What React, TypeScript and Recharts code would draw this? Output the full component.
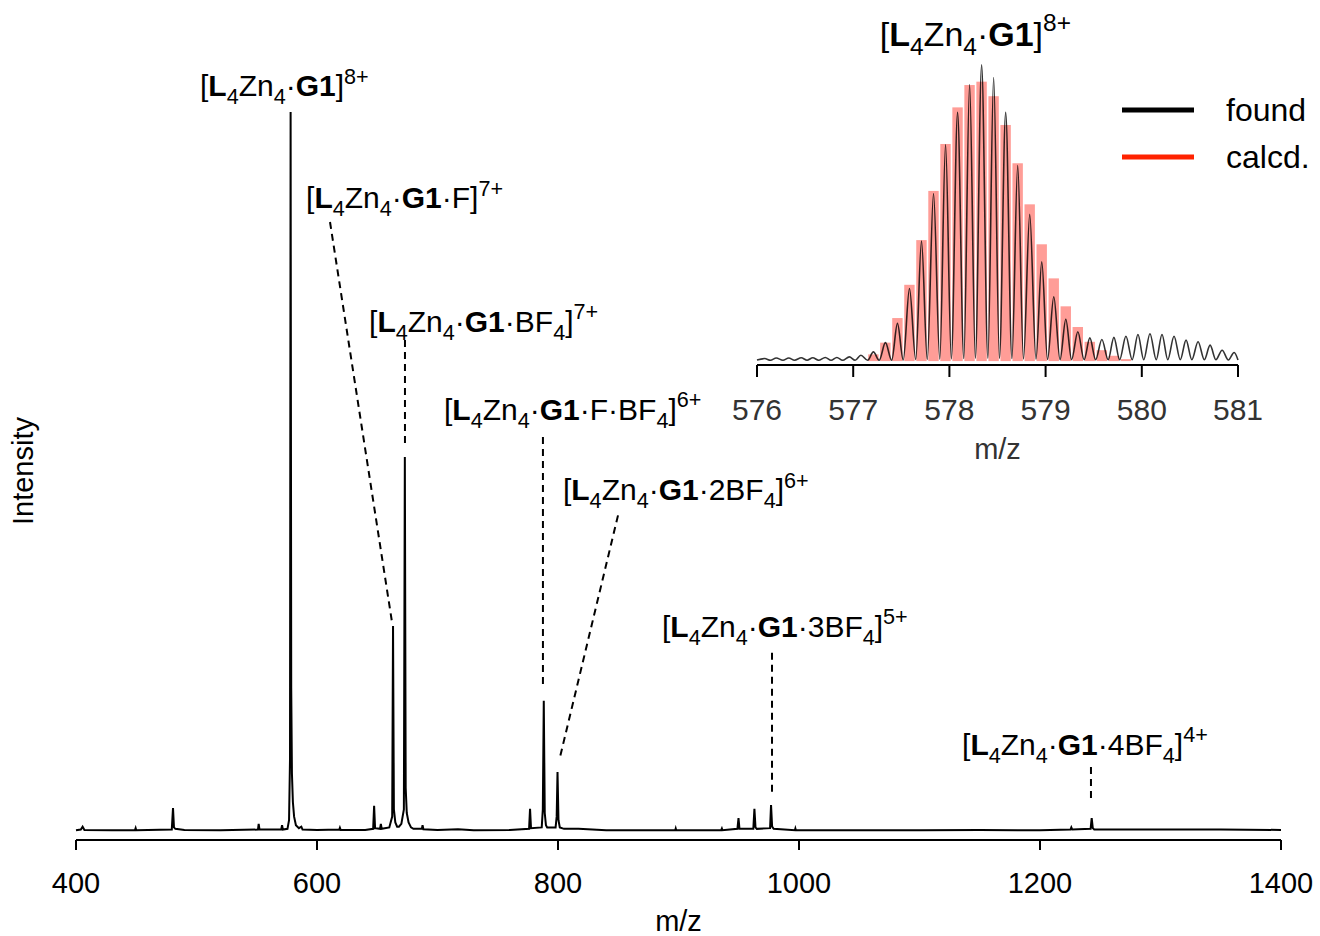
import React from 'react';
import { ComposedChart, LineChart, Line, Bar, XAxis, YAxis, ReferenceLine, ReferenceDot } from 'recharts';

const FONT = '"Liberation Sans", Arial, Helvetica, sans-serif';

// full spectrum: [m/z, relative intensity %]
const spectrum: [number, number][] = [
  [400, 0.1], [404, 0.2], [405.5, 0.6], [407, 0.15], [430, 0.1], [449, 0.15], [449.5, 0.4], [450, 0.1],
  [479.5, 0.2], [480.5, 3.2], [481.3, 0.5], [482.5, 0.3], [490, 0.15], [520, 0.1],
  [551, 0.2], [551.6, 1.0], [552.3, 0.2], [570.3, 0.2], [571, 0.8], [571.7, 0.2],
  [575.5, 0.3], [576.8, 1.5], [577.6, 10], [578.1, 100], [578.6, 20], [579.2, 8], [580, 4], [581, 2],
  [582.5, 0.8], [585, 0.4], [587, 0.6], [588, 0.2], [600, 0.15], [618.5, 0.2], [619, 0.45], [619.6, 0.15],
  [640, 0.15], [646.6, 0.3], [647.4, 3.5], [648.2, 0.4], [652.3, 0.3], [653, 1.0], [653.7, 0.3],
  [660, 0.5], [662.4, 2], [663.1, 28.5], [663.8, 3], [665, 1.2], [666.5, 0.6], [668, 0.6], [670, 1.0],
  [672.1, 3], [672.9, 52], [673.6, 6], [674.5, 2.5], [676, 1.2], [678, 0.5], [680, 0.3],
  [687, 0.3], [687.6, 0.8], [688.3, 0.25], [700, 0.15], [717, 0.25], [730, 0.1], [760, 0.15],
  [776, 0.3], [776.8, 3.1], [777.6, 0.4], [786.5, 0.5], [787.4, 3], [788.2, 18.1], [789, 2.5], [790, 0.8],
  [791, 0.5], [798, 0.5], [798.9, 2], [799.6, 8.2], [800.4, 1.5], [801.5, 0.5], [805, 0.3], [817, 0.3],
  [840, 0.1], [897.3, 0.1], [897.7, 0.35], [898.1, 0.1], [935.5, 0.15], [936, 0.35], [936.5, 0.1],
  [948.9, 0.3], [949.8, 1.8], [950.6, 0.3], [962.1, 0.3], [963, 3.1], [963.9, 0.5], [965, 0.3],
  [976, 0.4], [976.8, 3.6], [977.7, 0.6], [979, 0.3], [996.6, 0.1], [997, 0.35], [997.4, 0.1],
  [1050, 0.1], [1100, 0.1], [1150, 0.15], [1200, 0.1], [1225.3, 0.2], [1226, 0.5], [1226.8, 0.2],
  [1242, 0.3], [1242.9, 1.8], [1243.8, 0.4], [1245, 0.2], [1300, 0.2], [1350, 0.2], [1400, 0.15],
];

const mainTicks = [400, 600, 800, 1000, 1200, 1400];

// peak labels (left edge / baseline in data units)
const labelMz = [502.9, 590.9, 643.2, 705.4, 804.1, 886.3, 1135.3];
const labelI = [102.2, 86.6, 69.4, 57.2, 46.0, 27.0, 10.6];
const labelAdduct: [string, string][] = [
  ['', ''], ['·F', ''], ['·BF', '4'], ['·F·BF', '4'], ['·2BF', '4'], ['·3BF', '4'], ['·4BF', '4'],
];
const labelCharge = ['8+', '7+', '7+', '6+', '6+', '5+', '4+'];

// dashed leader lines
const leaderFrom: [number, number][] = [[610.8, 84.7], [673, 68.3], [787.5, 54.8], [849.8, 43.9], [977.6, 24.8], [1242.3, 8.9]];
const leaderTo: [number, number][] = [[662.2, 29.1], [673, 53.7], [787.5, 20.3], [801.7, 10.3], [977.6, 5.3], [1242.3, 4.3]];

// inset: calculated isotope pattern
const calcMz = [577.21, 577.335, 577.46, 577.585, 577.71, 577.835, 577.96, 578.085, 578.21, 578.335, 578.46,
  578.585, 578.71, 578.835, 578.96, 579.085, 579.21, 579.335, 579.46, 579.585, 579.71, 579.835];
const calcI = [2.4, 6.6, 15.4, 27.3, 43.3, 60.9, 77.7, 90.8, 98.8, 100, 94.8,
  84.5, 70.8, 56.1, 41.8, 29.6, 19.6, 12.2, 6.9, 3.9, 1.9, 0.7];

// inset: found trace
const found: [number, number][] = [
  [576.0, 0.4], [576.08, 0.9], [576.14, 0.3], [576.2, 1.1], [576.27, 0.3], [576.33, 1.1], [576.39, 0.3],
  [576.46, 1.2], [576.52, 0.3], [576.58, 1.2], [576.64, 0.3], [576.71, 1.3], [576.77, 0.3], [576.83, 1.3],
  [576.89, 0.3], [576.96, 1.5], [577.02, 0.3], [577.08, 2.1], [577.15, 0.3], [577.21, 3.3], [577.27, 0.3],
  [577.335, 6.6], [577.4, 0.3], [577.46, 13.5], [577.52, 0.4], [577.585, 26], [577.65, 0.5], [577.71, 43],
  [577.77, 0.6], [577.835, 60], [577.9, 0.7], [577.96, 77.5], [578.02, 0.8], [578.085, 89], [578.15, 0.9],
  [578.21, 99], [578.27, 1], [578.335, 106], [578.4, 1], [578.46, 101.5], [578.52, 1], [578.585, 89],
  [578.65, 0.9], [578.71, 70], [578.77, 0.8], [578.835, 52.5], [578.9, 0.7], [578.96, 35.5], [579.02, 0.6],
  [579.085, 23], [579.15, 0.5], [579.21, 15], [579.27, 0.5], [579.335, 10.5], [579.4, 0.5], [579.46, 8.3],
  [579.52, 0.5], [579.585, 7.7], [579.65, 0.5], [579.71, 8.5], [579.77, 0.5], [579.835, 8.9], [579.9, 0.5],
  [579.96, 9.5], [580.02, 0.5], [580.085, 9.8], [580.15, 0.5], [580.21, 9.5], [580.27, 0.5], [580.335, 8.9],
  [580.4, 0.5], [580.46, 7.5], [580.52, 0.5], [580.585, 6.9], [580.65, 0.5], [580.71, 5.7], [580.77, 0.5],
  [580.835, 3.9], [580.9, 0.4], [580.96, 3.1], [581.0, 0.4],
];

const insetTicks = [576, 577, 578, 579, 580, 581];

type Seg = { t: string; b?: boolean; sub?: boolean; sup?: boolean };

const formula = (adduct: [string, string], charge: string): Seg[] => {
  const segs: Seg[] = [
    { t: '[' }, { t: 'L', b: true }, { t: '4', sub: true }, { t: 'Zn' }, { t: '4', sub: true }, { t: '·' }, { t: 'G1', b: true },
  ];
  if (adduct[0]) segs.push({ t: adduct[0] });
  if (adduct[1]) segs.push({ t: adduct[1], sub: true });
  segs.push({ t: ']' }, { t: charge, sup: true });
  return segs;
};

const FormulaText = ({ x, y, segs, size, anchor = 'start' }: { x: number; y: number; segs: Seg[]; size: number; anchor?: string }) => {
  let shift = 0;
  return (
    <text x={x} y={y} textAnchor={anchor} fontFamily={FONT} fontSize={size} fill="#000">
      {segs.map((s, i) => {
        const target = s.sub ? size * 0.27 : s.sup ? -size * 0.42 : 0;
        const dy = target - shift;
        shift = target;
        return (
          <tspan key={i} dy={dy} fontSize={s.sub || s.sup ? size * 0.72 : size} fontWeight={s.b ? 700 : 400}>
            {s.t}
          </tspan>
        );
      })}
    </text>
  );
};

const CalcBar = (p: any) => {
  if (!p.height || p.height <= 0) return null;
  const cx = p.x + p.width / 2;
  return <rect x={cx - 5.2} y={p.y} width={10.4} height={p.height} fill="#ff3b30" fillOpacity={0.5} />;
};

const mainData = spectrum.map(([mz, i]) => ({ mz, i }));
const insetData = [
  ...calcMz.map((mz, k) => ({ mz, calc: calcI[k] })),
  ...found.map(([mz, f]) => ({ mz, found: f })),
].sort((a, b) => a.mz - b.mz);

const layer: React.CSSProperties = { position: 'absolute', left: 0, top: 0 };

export default function App() {
  return (
    <div style={{ position: 'absolute', left: 0, top: 0, width: 1320, height: 936, background: '#fff', fontFamily: FONT }}>
      <div style={layer}>
        <LineChart width={1320} height={936} data={mainData} margin={{ top: 103, left: 76, right: 39, bottom: 4 }}>
          <XAxis
            dataKey="mz"
            type="number"
            domain={[400, 1400]}
            ticks={mainTicks}
            interval={0}
            tickSize={10}
            tickMargin={22}
            height={92}
            axisLine={{ stroke: '#000', strokeWidth: 2 }}
            tickLine={{ stroke: '#000', strokeWidth: 2 }}
            tick={{ fill: '#000', fontSize: 29, fontFamily: FONT }}
            label={{ value: 'm/z', position: 'insideBottom', offset: 1, fill: '#000', fontSize: 29, fontFamily: FONT }}
          />
          <YAxis
            type="number"
            domain={[-1.25, 101.25]}
            allowDataOverflow
            width={0}
            tick={false}
            tickLine={false}
            axisLine={{ stroke: '#000', strokeWidth: 2 }}
          />
          <Line type="linear" dataKey="i" stroke="#000" strokeWidth={2} dot={false} isAnimationActive={false} />
          {leaderFrom.map((p, k) => (
            <ReferenceLine
              key={`l${k}`}
              segment={[{ x: p[0], y: p[1] }, { x: leaderTo[k][0], y: leaderTo[k][1] }]}
              stroke="#000"
              strokeWidth={2}
              strokeDasharray="7 5"
            />
          ))}
          {labelMz.map((mz, k) => (
            <ReferenceDot
              key={`t${k}`}
              x={mz}
              y={labelI[k]}
              r={0}
              ifOverflow="visible"
              shape={(p: any) => <FormulaText x={p.cx} y={p.cy} size={30} segs={formula(labelAdduct[k], labelCharge[k])} />}
            />
          ))}
        </LineChart>
      </div>
      <div style={layer}>
        <ComposedChart width={1320} height={936} data={insetData} margin={{ top: 61, left: 757, right: 82, bottom: 476 }}>
          <XAxis
            dataKey="mz"
            type="number"
            domain={[576, 581]}
            ticks={insetTicks}
            interval={0}
            tickSize={12}
            tickMargin={22}
            height={95}
            axisLine={{ stroke: '#000', strokeWidth: 2 }}
            tickLine={{ stroke: '#000', strokeWidth: 2 }}
            tick={{ fill: '#333', fontSize: 30, fontFamily: FONT }}
            label={{ value: 'm/z', position: 'insideBottom', offset: 1, fill: '#333', fontSize: 29, fontFamily: FONT }}
          />
          <YAxis
            type="number"
            domain={[-1.4, 107.4]}
            allowDataOverflow
            width={0}
            tick={false}
            tickLine={false}
            axisLine={{ stroke: '#000', strokeWidth: 2 }}
          />
          <Bar dataKey="calc" shape={CalcBar} isAnimationActive={false} />
          <Line type="monotone" dataKey="found" stroke="#000" strokeOpacity={0.8} strokeWidth={1.6} dot={false} connectNulls isAnimationActive={false} />
          <ReferenceDot
            x={578.27}
            y={112.9}
            r={0}
            ifOverflow="visible"
            shape={(p: any) => <FormulaText x={p.cx} y={p.cy} size={34} anchor="middle" segs={formula(['', ''], '8+')} />}
          />
        </ComposedChart>
      </div>
      <svg width={1320} height={936} style={{ ...layer, pointerEvents: 'none' }}>
        <text x={33} y={471} transform="rotate(-90 33 471)" textAnchor="middle" fontFamily={FONT} fontSize={29} fill="#000">
          Intensity
        </text>
        <line x1={1122} y1={110} x2={1194} y2={110} stroke="#000" strokeWidth={5} />
        <line x1={1122} y1={157} x2={1194} y2={157} stroke="#ff2200" strokeWidth={5} />
        <text x={1226} y={121} fontFamily={FONT} fontSize={32} fill="#000">found</text>
        <text x={1226} y={168} fontFamily={FONT} fontSize={32} fill="#000">calcd.</text>
      </svg>
    </div>
  );
}
